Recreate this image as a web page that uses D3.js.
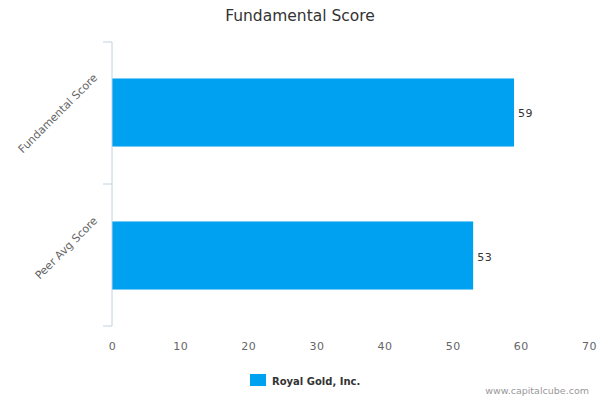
<!DOCTYPE html>
<html>
<head>
<meta charset="utf-8">
<script src="https://cdn.jsdelivr.net/npm/d3@7"></script>
<style>
  body { margin: 0; background: #fff; }
  svg { font-family: "DejaVu Sans", Verdana, sans-serif; }
</style>
</head>
<body>
<div id="chart"></div>
<script>
const categories = ["Fundamental Score", "Peer Avg Score"];
const scores = [59, 53];
const xTicks = [0, 10, 20, 30, 40, 50, 60, 70];
const seriesName = "Royal Gold, Inc.";
const chartTitle = "Fundamental Score";
const credit = "www.capitalcube.com";

const width = 600;
const height = 400;
const plotLeft = 112, plotRight = 589, plotTop = 42, plotBottom = 326;
const barColor = "#00a1f1";

let svg = d3.select("#chart").append("svg")
    .attr("width", width)
    .attr("height", height);

let xScale = d3.scaleLinear()
    .domain([0, 70])
    .range([plotLeft, plotRight]);

let yScale = d3.scaleBand()
    .domain(categories)
    .range([plotTop, plotBottom])
    .paddingInner(0.524)
    .paddingOuter(0.255);

// title
svg.append("text")
    .attr("x", 300)
    .attr("y", 21)
    .attr("text-anchor", "middle")
    .style("font-size", "15.5px")
    .attr("fill", "#333")
    .text(chartTitle);

// bars
svg.selectAll("rect.bar")
    .data(scores)
    .enter()
    .append("rect")
    .attr("class", "bar")
    .attr("x", xScale(0))
    .attr("y", (d, i) => yScale(categories[i]))
    .attr("width", d => xScale(d) - xScale(0))
    .attr("height", yScale.bandwidth())
    .attr("fill", barColor);

// value labels
svg.selectAll("text.val")
    .data(scores)
    .enter()
    .append("text")
    .attr("class", "val")
    .attr("x", d => xScale(d) + 4)
    .attr("y", (d, i) => yScale(categories[i]) + yScale.bandwidth() / 2 + 5)
    .style("font-size", "11px")
    .style("letter-spacing", "0.5px")
    .attr("fill", "#333")
    .text(d => d);

// category axis
let yAxis = svg.append("g");
yAxis.append("line")
    .attr("x1", plotLeft).attr("x2", plotLeft)
    .attr("y1", plotTop).attr("y2", plotBottom)
    .attr("stroke", "#c0d0e0");

let bounds = [plotTop, plotTop + (plotBottom - plotTop) / 2, plotBottom];
yAxis.selectAll("line.tick")
    .data(bounds)
    .enter()
    .append("line")
    .attr("class", "tick")
    .attr("x1", plotLeft - 9).attr("x2", plotLeft)
    .attr("y1", d => d).attr("y2", d => d)
    .attr("stroke", "#c0d0e0");

yAxis.selectAll("text")
    .data(categories)
    .enter()
    .append("text")
    .attr("text-anchor", "end")
    .style("font-size", "11px")
    .attr("fill", "#666")
    .attr("transform", d => {
        let cy = yScale(d) + yScale.bandwidth() / 2 - 34;
        return `translate(98, ${cy}) rotate(-45)`;
    })
    .text(d => d);

// value axis labels
let xAxis = svg.append("g")
    .attr("transform", `translate(0, ${plotBottom})`)
    .call(d3.axisBottom(xScale).tickValues(xTicks).tickSize(0).tickPadding(16));
xAxis.select(".domain").remove();
xAxis.selectAll("text")
    .style("font-size", "11px")
    .style("font-family", "DejaVu Sans, sans-serif")
    .style("letter-spacing", "0.5px")
    .attr("fill", "#666");

// legend
svg.append("rect")
    .attr("x", 250).attr("y", 374)
    .attr("width", 16).attr("height", 12)
    .attr("fill", barColor);
svg.append("text")
    .attr("x", 272).attr("y", 384.5)
    .style("font-size", "10px")
    .style("font-weight", "bold")
    .attr("fill", "#333")
    .text(seriesName);

// credit
svg.append("text")
    .attr("x", 589).attr("y", 394)
    .attr("text-anchor", "end")
    .style("font-size", "9.5px")
    .attr("fill", "#999")
    .text(credit);
</script>
</body>
</html>
